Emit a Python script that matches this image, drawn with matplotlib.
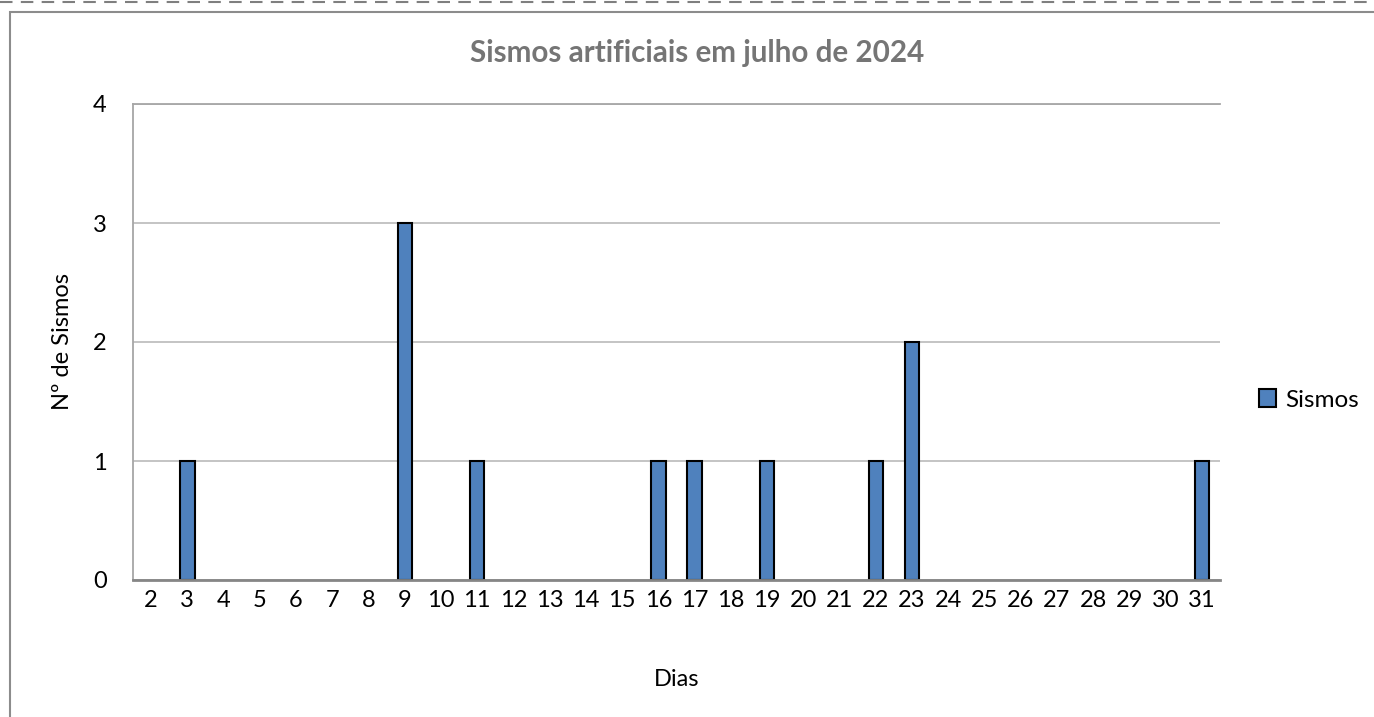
import matplotlib
matplotlib.use("Agg")
import matplotlib.pyplot as plt
from matplotlib.patches import Rectangle
from matplotlib.lines import Line2D

days = [str(d) for d in range(2, 32)]
sismos = [0, 1, 0, 0, 0, 0, 0, 3, 0, 1, 0, 0, 0, 0, 1, 1, 0, 1, 0, 0, 1, 2, 0, 0, 0, 0, 0, 0, 0, 1]
yticks = [0, 1, 2, 3, 4]

plt.rcParams['font.family'] = ['Lato', 'DejaVu Sans']

fig = plt.figure(figsize=(13.74, 7.17), dpi=100)
W, H = 1374, 717

# outer chart border and dashed frame
fig.add_artist(Rectangle((10 / W, -0.01), 1.02, 1 - 12 / H + 0.01, transform=fig.transFigure,
                         fill=False, edgecolor='#8c8c8c', linewidth=1.5))
fig.add_artist(Line2D([0, 1], [1 - 2 / H, 1 - 2 / H], transform=fig.transFigure,
                      color='#7f7f7f', linewidth=1.5, linestyle=(0, (6, 4))))

ax = fig.add_axes([133 / W, 1 - 580 / H, (1220 - 133) / W, (580 - 104) / H])
x = list(range(len(days)))
edge = ['black' if v > 0 else 'none' for v in sismos]
bars = ax.bar(x, sismos, width=0.4, color='#4F81BD', edgecolor=edge, linewidth=1.5,
              label='Sismos', zorder=3)
ax.set_xlim(-0.5, len(days) - 0.5)
ax.set_ylim(0, 4)
ax.set_yticks(yticks)
ax.set_xticks(x)
ax.set_xticklabels(days)
ax.yaxis.grid(True, color='#bfbfbf', linewidth=1.3, zorder=0)
ax.tick_params(axis='both', length=0, labelsize=17, colors='black')
ax.tick_params(axis='x', pad=7)
ax.tick_params(axis='y', pad=19)
ax.spines['right'].set_visible(False)
ax.spines['bottom'].set_color('#868686')
ax.spines['bottom'].set_linewidth(2)
ax.spines['bottom'].set_zorder(4)
ax.spines['left'].set_color('#a6a6a6')
ax.spines['left'].set_linewidth(1.3)
ax.spines['top'].set_color('#a6a6a6')
ax.spines['top'].set_linewidth(1.3)

ax.set_xlabel('Dias', fontsize=17, labelpad=42)
ax.set_ylabel('Nº de Sismos', fontsize=17, labelpad=14)
fig.text(697 / W, 1 - 53 / H, 'Sismos artificiais em julho de 2024', fontsize=21.3,
         fontweight='bold', color='#757575', ha='center', va='center')

legend_handle = Rectangle((0, 0), 1, 1, facecolor='#4F81BD', edgecolor='black', linewidth=1.5)
leg = fig.legend(handles=[legend_handle], labels=['Sismos'], loc='center left',
                 bbox_to_anchor=(1237 / W, 1 - 400 / H), frameon=False, fontsize=17.5,
                 handlelength=0.7, handleheight=0.7, handletextpad=0.4)

fig.savefig('out.png', dpi=100)
